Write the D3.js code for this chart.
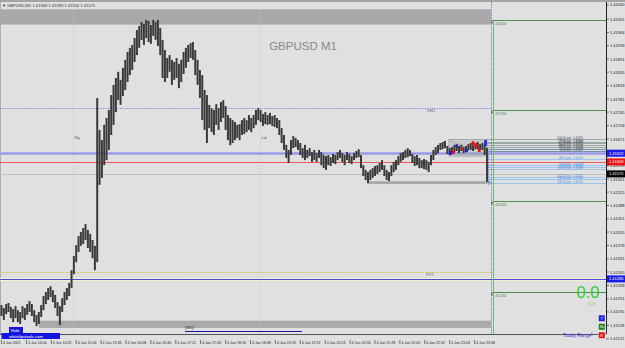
<!DOCTYPE html>
<html>
<head>
<meta charset="utf-8">
<script src="https://cdn.jsdelivr.net/npm/d3@7"></script>
<style>
  body { margin: 0; background: #e0e0e0; }
  svg { display: block; font-family: "Liberation Sans", Arial, sans-serif; }
</style>
</head>
<body>
<script>
// GBPUSD M1 chart, redrawn. Bars aggregated to 3 minute steps
var W = 625, H = 348;

var barStart = new Date(2021, 5, 4, 13, 28);
var barStep = 3; // minutes

var barHigh = [
1.41214,1.41206,1.41217,1.41220,1.41209,1.41203,1.41211,1.41200,1.41195,1.41211,
1.41206,1.41217,1.41225,1.41217,1.41200,1.41187,1.41195,1.41214,1.41239,1.41250,
1.41261,1.41266,1.41255,1.41242,1.41222,1.41211,1.41233,1.41250,1.41261,1.41275,
1.41310,1.41349,1.41379,1.41404,1.41415,1.41426,1.41437,1.41421,1.41410,1.41393,
1.41377,1.41784,1.41696,1.41668,1.41710,1.41729,1.41751,1.41792,1.41820,1.41839,
1.41856,1.41834,1.41867,1.41889,1.41911,1.41922,1.41930,1.41949,1.41971,1.41982,
1.41993,1.41988,1.41999,1.41996,1.41985,1.41999,1.41993,1.41999,1.41977,1.41944,
1.41916,1.41894,1.41902,1.41889,1.41883,1.41894,1.41878,1.41889,1.41911,1.41922,
1.41930,1.41935,1.41938,1.41916,1.41889,1.41861,1.41847,1.41806,1.41792,1.41765,
1.41756,1.41751,1.41767,1.41756,1.41773,1.41778,1.41762,1.41737,1.41729,1.41723,
1.41718,1.41710,1.41712,1.41723,1.41729,1.41723,1.41737,1.41729,1.41737,1.41751,
1.41756,1.41751,1.41740,1.41745,1.41737,1.41743,1.41734,1.41737,1.41729,1.41723,
1.41701,1.41682,1.41655,1.41641,1.41668,1.41679,1.41674,1.41668,1.41660,1.41646,
1.41655,1.41641,1.41646,1.41635,1.41641,1.41632,1.41641,1.41635,1.41627,1.41624,
1.41627,1.41621,1.41630,1.41627,1.41635,1.41641,1.41632,1.41627,1.41635,1.41630,
1.41624,1.41632,1.41638,1.41643,1.41627,1.41599,1.41586,1.41580,1.41586,1.41591,
1.41597,1.41599,1.41605,1.41613,1.41599,1.41586,1.41580,1.41599,1.41608,1.41613,
1.41624,1.41632,1.41635,1.41641,1.41646,1.41641,1.41630,1.41624,1.41627,1.41619,
1.41613,1.41616,1.41613,1.41608,1.41627,1.41641,1.41649,1.41655,1.41660,1.41663,
1.41666,1.41652,1.41646,1.41649,1.41655,1.41657,1.41652,1.41655,1.41649,1.41652,
1.41657,1.41660,1.41655,1.41660,1.41663,1.41657,1.41660,1.41655,1.41646
];
var barLow = [
1.41184,1.41173,1.41189,1.41195,1.41178,1.41167,1.41178,1.41167,1.41162,1.41178,
1.41173,1.41187,1.41195,1.41184,1.41167,1.41156,1.41162,1.41181,1.41200,1.41217,
1.41228,1.41236,1.41222,1.41206,1.41184,1.41159,1.41195,1.41214,1.41228,1.41239,
1.41261,1.41299,1.41332,1.41360,1.41377,1.41382,1.41393,1.41371,1.41360,1.41343,
1.41310,1.41332,1.41545,1.41564,1.41599,1.41613,1.41641,1.41682,1.41710,1.41745,
1.41778,1.41765,1.41789,1.41806,1.41828,1.41847,1.41861,1.41883,1.41902,1.41922,
1.41944,1.41930,1.41949,1.41938,1.41933,1.41955,1.41944,1.41927,1.41902,1.41839,
1.41828,1.41839,1.41856,1.41820,1.41834,1.41839,1.41811,1.41828,1.41850,1.41867,
1.41883,1.41894,1.41889,1.41847,1.41820,1.41784,1.41723,1.41696,1.41660,1.41701,
1.41690,1.41682,1.41710,1.41696,1.41718,1.41729,1.41696,1.41668,1.41654,1.41660,
1.41668,1.41674,1.41668,1.41682,1.41685,1.41690,1.41696,1.41690,1.41701,1.41710,
1.41723,1.41718,1.41707,1.41712,1.41710,1.41712,1.41707,1.41704,1.41701,1.41682,
1.41660,1.41641,1.41619,1.41605,1.41627,1.41646,1.41649,1.41641,1.41627,1.41619,
1.41613,1.41619,1.41624,1.41608,1.41613,1.41608,1.41619,1.41599,1.41591,1.41586,
1.41599,1.41597,1.41605,1.41602,1.41613,1.41619,1.41608,1.41599,1.41613,1.41605,
1.41602,1.41613,1.41619,1.41621,1.41591,1.41569,1.41558,1.41550,1.41558,1.41564,
1.41569,1.41575,1.41580,1.41586,1.41569,1.41558,1.41555,1.41569,1.41580,1.41586,
1.41599,1.41608,1.41613,1.41619,1.41621,1.41624,1.41605,1.41597,1.41599,1.41591,
1.41591,1.41588,1.41586,1.41580,1.41599,1.41613,1.41627,1.41632,1.41641,1.41643,
1.41646,1.41630,1.41627,1.41630,1.41635,1.41638,1.41632,1.41638,1.41632,1.41635,
1.41641,1.41641,1.41638,1.41643,1.41643,1.41641,1.41641,1.41627,1.41553
];

// small overlay candles (5 min) inside the grey box
var haTimes = ["23:05","23:09","23:13","23:20","23:26","23:34","23:38","23:42","23:50"];
var haOpen  = [1.41627,1.41641,1.41649,1.41646,1.41635,1.41665,1.41660,1.41646,1.41652];
var haClose = [1.41638,1.41630,1.41655,1.41641,1.41643,1.41652,1.41646,1.41635,1.41668];

// axis labels
var priceTicks = [1.42040,1.42001,1.41964,1.41928,1.41891,1.41855,1.41818,1.41781,1.41745,1.41708,
  1.41671,1.41635,1.41598,1.41561,1.41525,1.41488,1.41451,1.41415,1.41378,1.41341,1.41305,1.41268,
  1.41231,1.41195,1.41158,1.41121];
var timeTicks = ["13:28","14:00","14:32","15:04","15:36","16:08","16:40","17:12","17:44","18:16",
  "18:48","19:20","19:52","20:24","20:56","21:28","22:00","22:32","23:04","23:36"];

// levels
var roundLevels = [1.42000, 1.41750, 1.41500, 1.41250];
var dr1Level = 1.41756, pvtLevel = 1.41305;
var blueLevel = 1.41632, redLevel = 1.41608, bidLevel = 1.41575, lowBlueLevel = 1.41286;
var topBand = [1.42028, 1.41986], bottomBand = [1.41171, 1.41151], lowBand = [1.41555, 1.41547];
var upperFib = [1.41670, 1.41664, 1.41659, 1.41654, 1.41648, 1.41643, 1.41637];
var upperFibNames = ["(100.0)","(78.6)","(61.8)","(50.0)","(38.2)","(23.6)","(0.0)"];
var lowerFib = [1.41616, 1.41599, 1.41593, 1.41588, 1.41567, 1.41560, 1.41551];
var lowerFibNames = ["(38.2)","(61.8)","(76.4)","(100.0)","(127.2)","(138.2)","(161.8)"];

function t(hm, day) {
  var p = hm.split(":");
  return new Date(2021, 5, day || 4, +p[0], +p[1]);
}

var x = d3.scaleTime().domain([t("13:28"), t("23:36")]).range([1.5, 474.6]);
var y = d3.scaleLinear().domain([1.4125, 1.42]).range([292, 19.5]);

var plotR = 606, plotB = 334, dataEnd = t("23:57");

var svg = d3.select("body").append("svg").attr("width", W).attr("height", H);

svg.append("rect").attr("width", W).attr("height", H).attr("fill", "#e0e0e0");
svg.append("rect").attr("x", 0).attr("y", 0).attr("width", W).attr("height", 2).attr("fill", "#a4a4a4");
svg.append("line").attr("x1", 0.5).attr("x2", 0.5).attr("y1", 2).attr("y2", plotB)
  .attr("stroke", "#b0b0b0");

// grey bands
function band(lv, t0, t1) {
  svg.append("rect").attr("x", x(t0)).attr("width", x(t1) - x(t0))
    .attr("y", y(lv[0])).attr("height", y(lv[1]) - y(lv[0])).attr("fill", "#a9a9a9");
}
band(topBand, t("13:26"), dataEnd);
band(bottomBand, t("14:16"), dataEnd);
band(lowBand, t("21:18"), dataEnd);

// session separators
[["15:00", "Ny"], ["19:00", "Ld"]].forEach(function(s) {
  var xx = Math.round(x(t(s[0]))) + 0.5;
  svg.append("line").attr("x1", xx).attr("x2", xx).attr("y1", 9).attr("y2", plotB)
    .attr("stroke", "#c4c4c4").attr("stroke-dasharray", "1,2");
  svg.append("text").attr("x", xx + 1).attr("y", 139).text(s[1])
    .attr("font-size", 4.4).attr("fill", "#555588");
});

// watermark
svg.append("text").attr("x", 303).attr("y", 50).attr("text-anchor", "middle")
  .attr("font-size", 11.5).attr("fill", "#8a8a8a").text("GBPUSD M1");

// horizontal lines
function hline(lv, x0, x1, color, w, dash) {
  var yy = Math.round(y(lv)) + 0.5;
  var l = svg.append("line").attr("x1", x0).attr("x2", x1).attr("y1", yy).attr("y2", yy)
    .attr("stroke", color).attr("stroke-width", w);
  if (dash) l.attr("stroke-dasharray", dash);
  return yy;
}
var xEnd = x(dataEnd);
hline(dr1Level, 0, xEnd, "#6a6af0", 0.8, "1.2,1.2");
svg.append("text").attr("x", 427).attr("y", y(dr1Level) + 4).text("DR1")
  .attr("font-size", 4.2).attr("fill", "#6060a0");
hline(bidLevel, 0, plotR, "#c0c0c0", 1);
hline(redLevel, 0, plotR, "#ee5a5a", 1);
hline(blueLevel, 0, plotR, "#9a9ae8", 2.4);
hline(pvtLevel, 0, xEnd, "#c8c84a", 1, "1.5,1");
svg.append("text").attr("x", 426).attr("y", y(pvtLevel) + 4).text("PVT")
  .attr("font-size", 4.2).attr("fill", "#6060a0");
hline(lowBlueLevel, 0, plotR, "#f4f0c8", 3);
hline(lowBlueLevel, 0, plotR, "#4848e0", 1);

// fib style levels on the right
var fibX0 = x(t("23:51"));
upperFib.forEach(function(v, i) {
  var yy = hline(v, fibX0, plotR, i < 5 ? "#8a9a9a" : "#5a7a9a", 0.8);
  svg.append("text").attr("x", 583).attr("y", yy - 0.3).attr("text-anchor", "end")
    .attr("font-size", 2.7).attr("fill", "#445").text(upperFibNames[i] + " proj - " + v.toFixed(5));
});
lowerFib.forEach(function(v, i) {
  var yy = hline(v, fibX0, plotR, "#8cbef0", 0.8);
  svg.append("text").attr("x", 583).attr("y", yy - 0.3).attr("text-anchor", "end")
    .attr("font-size", 2.7).attr("fill", "#4a8ada").text(lowerFibNames[i] + " proj - " + v.toFixed(5));
});

// grey box with overlay candles
var boxT0 = t("23:03"), boxT1 = t("23:52");
svg.append("rect").attr("x", x(boxT0)).attr("y", y(1.41670)).attr("width", x(boxT1) - x(boxT0))
  .attr("height", y(1.41624) - y(1.41670)).attr("fill", "rgba(150,160,160,0.35)")
  .attr("stroke", "#8a9090").attr("stroke-width", 0.6);
svg.append("line").attr("x1", x(t("23:04"))).attr("y1", y(1.41666)).attr("x2", x(t("23:22")))
  .attr("y2", y(1.41652)).attr("stroke", "#667").attr("stroke-width", 0.6).attr("stroke-dasharray", "1,1");

// price bars
var bars = barHigh.map(function(h, i) {
  return { time: d3.timeMinute.offset(barStart, i * barStep), high: h, low: barLow[i] };
});
svg.append("g").selectAll("line").data(bars).enter().append("line")
  .attr("x1", function(d) { return x(d.time); })
  .attr("x2", function(d) { return x(d.time); })
  .attr("y1", function(d) { return y(d.high); })
  .attr("y2", function(d) { return y(d.low); })
  .attr("stroke", "#3a3a3a").attr("stroke-width", 2);

svg.append("g").selectAll("rect").data(haTimes).enter().append("rect")
  .attr("x", function(d) { return x(t(d)) - 1.3; })
  .attr("width", 2.6)
  .attr("y", function(d, i) { return y(Math.max(haOpen[i], haClose[i])); })
  .attr("height", function(d, i) { return Math.max(1.5, Math.abs(y(haOpen[i]) - y(haClose[i]))); })
  .attr("fill", function(d, i) { return haClose[i] >= haOpen[i] ? "#1f1fe8" : "#ee1010"; });

// dashed line at last bar
svg.append("line").attr("x1", x(t("23:54"))).attr("x2", x(t("23:54")))
  .attr("y1", y(1.41630)).attr("y2", y(1.41545)).attr("stroke", "#3a6ae0")
  .attr("stroke-width", 0.8).attr("stroke-dasharray", "1.5,1");

// day separator and round levels
var sepX = Math.round(x(dataEnd)) + 0.5;
svg.append("line").attr("x1", sepX).attr("x2", sepX).attr("y1", 2).attr("y2", plotB)
  .attr("stroke", "#8a5ed0").attr("stroke-width", 0.8).attr("stroke-dasharray", "1.5,1");
var gX = Math.round(x(t("00:00", 5))) + 0.5;
svg.append("line").attr("x1", gX).attr("x2", gX).attr("y1", y(roundLevels[0])).attr("y2", plotB)
  .attr("stroke", "#66c266").attr("stroke-width", 1);
roundLevels.forEach(function(v) {
  var yy = hline(v, gX, plotR, "#4e8e4e", 1);
  svg.append("line").attr("x1", sepX + 0.5).attr("x2", sepX + 0.5).attr("y1", yy).attr("y2", yy + 3)
    .attr("stroke", "#222").attr("stroke-width", 0.8);
  svg.append("text").attr("x", gX + 1.5).attr("y", yy + 4.5).text(v.toFixed(5).slice(2))
    .attr("font-size", 4).attr("fill", "#3a8a3a");
});

// M5 marker
svg.append("text").attr("x", 185).attr("y", 328.5).text("[M5]").attr("font-size", 4.4).attr("fill", "#333");
svg.append("line").attr("x1", 185).attr("x2", 302).attr("y1", 331.5).attr("y2", 331.5)
  .attr("stroke", "#1a1aa0").attr("stroke-width", 1.2);

// right axis
svg.append("line").attr("x1", plotR + 0.5).attr("x2", plotR + 0.5).attr("y1", 2).attr("y2", plotB)
  .attr("stroke", "#222");
var ya = svg.append("g");
priceTicks.forEach(function(v) {
  var yy = y(v);
  ya.append("line").attr("x1", plotR).attr("x2", plotR + 3).attr("y1", yy).attr("y2", yy).attr("stroke", "#222").attr("stroke-width", 0.6);
  ya.append("text").attr("x", plotR + 4).attr("y", yy + 1.5).text(v.toFixed(5))
    .attr("font-size", 4).attr("fill", "#222");
});
function tag(v, bg, fg) {
  var yy = y(v);
  svg.append("rect").attr("x", plotR + 1).attr("y", yy - 3.5).attr("width", 18).attr("height", 7).attr("fill", bg);
  svg.append("text").attr("x", plotR + 3).attr("y", yy + 1.5).text(v.toFixed(5))
    .attr("font-size", 4).attr("fill", fg);
}
tag(blueLevel, "#1a1ae6", "#fff");
tag(redLevel, "#ee1111", "#fff");
tag(bidLevel, "#000", "#fff");
tag(lowBlueLevel, "#1a1ae6", "#fff");

// time axis
svg.append("line").attr("x1", 0).attr("x2", plotR).attr("y1", plotB + 0.5).attr("y2", plotB + 0.5).attr("stroke", "#555");
timeTicks.forEach(function(s, i) {
  var xx = x(t(s));
  svg.append("line").attr("x1", xx).attr("x2", xx).attr("y1", plotB + 6).attr("y2", plotB + 10).attr("stroke", "#222").attr("stroke-width", 0.6);
  svg.append("text").attr("x", xx + 1.5).attr("y", plotB + 10).text(i === 0 ? "4 Jun 2021" : "4 Jun " + s)
    .attr("font-size", 3.6).attr("fill", "#222");
});

// title
svg.append("text").attr("x", 2).attr("y", 6.5).text("\u25BC GBPUSD,M1  1.41569 1.41589 1.41550 1.41575")
  .attr("font-size", 4.1).attr("fill", "#333");

// bottom left buttons
svg.append("rect").attr("x", 9).attr("y", 327).attr("width", 14).attr("height", 6).attr("fill", "#1515e0");
svg.append("text").attr("x", 11).attr("y", 331.8).text("Hide").attr("font-size", 4.2).attr("fill", "#fff");
svg.append("rect").attr("x", 1.5).attr("y", 333).attr("width", 58.5).attr("height", 6).attr("fill", "#1515e0");
svg.append("text").attr("x", 9).attr("y", 337.8).text("whitelipstools.com").attr("font-size", 4.2).attr("fill", "#fff");

// range readout
svg.append("text").attr("x", 588).attr("y", 298).attr("text-anchor", "middle").text("0.0")
  .attr("font-size", 16.5).attr("fill", "#33cc33");
svg.append("text").attr("x", 591.5).attr("y", 305.5).attr("text-anchor", "middle").text("0.0")
  .attr("font-size", 5.5).attr("fill", "#88cc88");
[["T", "#2020e0", 315], ["Sk", "#1a7a1a", 323.5], ["R", "#e01010", 332]].forEach(function(b) {
  svg.append("rect").attr("x", 598.5).attr("y", b[2]).attr("width", 6.5).attr("height", 6.5)
    .attr("fill", b[1]).attr("stroke", "#eee").attr("stroke-width", 0.5);
  svg.append("text").attr("x", 601.75).attr("y", b[2] + 4.8).attr("text-anchor", "middle").text(b[0])
    .attr("font-size", 4).attr("fill", "#fff");
});
svg.append("text").attr("x", 563).attr("y", 337).text("Today Range").attr("font-size", 4.8).attr("fill", "#3a3ad8");
svg.append("text").attr("x", 591).attr("y", 336).text("I").attr("font-size", 5.5).attr("fill", "#3a3ad8");
</script>
</body>
</html>
